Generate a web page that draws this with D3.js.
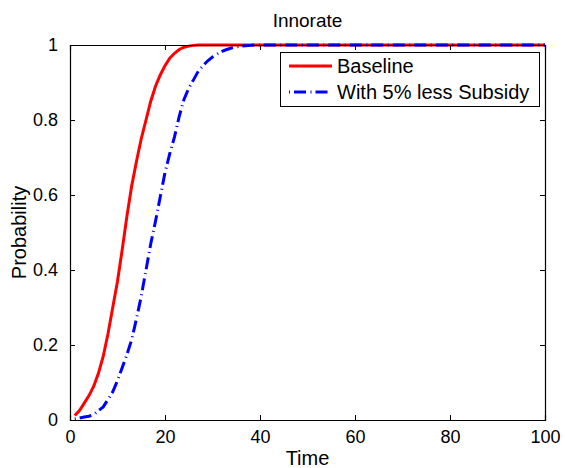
<!DOCTYPE html>
<html><head><meta charset="utf-8">
<script src="https://cdn.jsdelivr.net/npm/d3@7"></script>
<style>body{margin:0;background:#fff}svg{display:block}text{font-family:"Liberation Sans",Arial,Helvetica,sans-serif;fill:#000}</style>
</head><body><svg id="c" width="565" height="468"></svg>
<script>
const title = "Innorate";
const xLabel = "Time";
const yLabel = "Probability";
const seriesNames = ["Baseline", "With 5% less Subsidy"];
const xTicks = [0, 20, 40, 60, 80, 100];
const yTicks = [0, 0.2, 0.4, 0.6, 0.8, 1];
const yTickLabels = ["0", "0.2", "0.4", "0.6", "0.8", "1"];
const time = [1,2,3,4,5,6,7,8,9,10,11,12,13,14,15,16,17,18,19,20,21,22,23,24,25,26,27,28,29,30,31,32,33,34,35,36,37,38,39,40,50,60,70,80,90,100];
const baseline = [0.012,0.025,0.045,0.065,0.09,0.125,0.17,0.23,0.30,0.37,0.455,0.545,0.625,0.69,0.75,0.80,0.85,0.89,0.92,0.945,0.965,0.978,0.988,0.994,0.997,0.999,1,1,1,1,1,1,1,1,1,1,1,1,1,1,1,1,1,1,1,1];
const lessSubsidy = [0.003,0.005,0.008,0.01,0.015,0.025,0.035,0.055,0.075,0.105,0.14,0.175,0.215,0.27,0.33,0.40,0.47,0.53,0.595,0.66,0.71,0.755,0.81,0.855,0.885,0.907,0.93,0.945,0.958,0.968,0.976,0.983,0.988,0.992,0.995,0.997,0.998,0.999,1,1,1,1,1,1,1,1];

const svg = d3.select("#c");
const L = 70, R = 545, T = 45, B = 420;
const x = d3.scaleLinear().domain([0, 100]).range([L, R]);
const y = d3.scaleLinear().domain([0, 1]).range([B, T]);
const fs = 18;

const line = d3.line().x((d, i) => x(time[i])).y(d => y(d));
svg.append("clipPath").attr("id", "cp").append("rect")
  .attr("x", L).attr("y", T - 2).attr("width", R - L + 1).attr("height", B - T + 4);

svg.append("path").datum(baseline).attr("d", line).attr("fill", "none")
  .attr("stroke", "#ff0000").attr("stroke-width", 3).attr("clip-path", "url(#cp)");
svg.append("path").datum(lessSubsidy).attr("d", line).attr("fill", "none")
  .attr("stroke", "#0000ff").attr("stroke-width", 3).attr("stroke-dasharray", "1,4,12,4.5")
  .attr("clip-path", "url(#cp)");

// axes
const ax = svg.append("g").attr("transform", `translate(0,${B})`)
  .call(d3.axisBottom(x).tickValues(xTicks).tickSize(-5).tickPadding(10).tickFormat(d3.format("d")));
const axTop = svg.append("g").attr("transform", `translate(0,${T})`)
  .call(d3.axisTop(x).tickValues(xTicks).tickSize(-5).tickFormat(""));
const ay = svg.append("g").attr("transform", `translate(${L},0)`)
  .call(d3.axisLeft(y).tickValues(yTicks).tickSize(-5).tickPadding(12).tickFormat((d, i) => yTickLabels[i]));
const ayR = svg.append("g").attr("transform", `translate(${R},0)`)
  .call(d3.axisRight(y).tickValues(yTicks).tickSize(-5).tickFormat(""));
[ax, axTop, ay, ayR].forEach(g => {
  g.selectAll("path.domain").attr("stroke", "#000").attr("stroke-width", 1.2);
  g.selectAll("line").attr("stroke", "#000");
  g.selectAll("text").attr("font-size", fs).attr("font-family", '"Liberation Sans",Arial,sans-serif').attr("fill", "#000");
});

svg.append("text").attr("x", (L + R) / 2).attr("y", 27).attr("text-anchor", "middle").attr("font-size", 19).text(title);
svg.append("text").attr("x", (L + R) / 2).attr("y", 465).attr("text-anchor", "middle").attr("font-size", 20).text(xLabel);
svg.append("text").attr("transform", `translate(26,${(T + B) / 2}) rotate(-90)`).attr("text-anchor", "middle").attr("font-size", 20).text(yLabel);

// legend
const lg = svg.append("g");
lg.append("rect").attr("x", 280.5).attr("y", 52.5).attr("width", 259).attr("height", 54)
  .attr("fill", "#fff").attr("stroke", "#000").attr("stroke-width", 1);
const styles = [{c: "#ff0000", d: null}, {c: "#0000ff", d: "1,4,12,4.5"}];
seriesNames.forEach((n, i) => {
  const yy = 66 + i * 26;
  lg.append("line").attr("x1", 289).attr("x2", 332).attr("y1", yy).attr("y2", yy)
    .attr("stroke", styles[i].c).attr("stroke-width", 3).attr("stroke-dasharray", styles[i].d);
  lg.append("text").attr("x", 337).attr("y", yy).attr("dy", "0.35em").attr("font-size", 20).text(n);
});
</script></body></html>
